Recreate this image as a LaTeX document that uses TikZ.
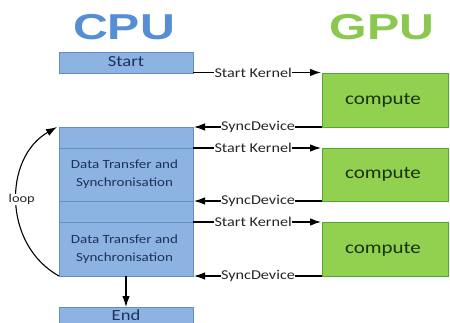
\documentclass[tikz,border=0pt]{standalone}
\usepackage{fontspec}
\setmainfont{Carlito}[FakeStretch=1.2]
\newfontfamily\titlefont{Liberation Sans}[FakeStretch=1.34]
\usetikzlibrary{arrows.meta}
\definecolor{cpublue}{RGB}{85,142,213}
\definecolor{gpugreen}{RGB}{140,200,80}
\definecolor{boxblue}{RGB}{141,179,226}
\definecolor{boxblueline}{RGB}{100,140,200}
\definecolor{boxgreen}{RGB}{146,208,80}
\definecolor{boxgreenline}{RGB}{80,170,50}
\definecolor{bluetext}{RGB}{30,50,90}
\definecolor{greentext}{RGB}{25,50,15}
\begin{document}
\begin{tikzpicture}[x=1pt,y=-1pt,
  cpubox/.style={draw=boxblueline,fill=boxblue,line width=0.6pt},
  gpubox/.style={draw=boxgreenline,fill=boxgreen,line width=0.6pt},
  conn/.style={line width=1.1pt,-{Latex[length=11pt,width=7.5pt]}},
  lbl/.style={fill=white,inner sep=0.5pt,font=\fontsize{13.5}{15}\selectfont,text=black!85}
]
\useasboundingbox (0,0) rectangle (450,323);
% titles
\node[text=cpublue,font=\titlefont\bfseries\fontsize{36}{38}\selectfont] (cpu) at (124,27) {CPU};
\node[text=gpugreen,font=\titlefont\bfseries\fontsize{36}{38}\selectfont] (gpu) at (382,27) {GPU};
% CPU boxes
\draw[cpubox] (59,52) rectangle (193,73);
\node[text=bluetext,font=\fontsize{15.5}{17}\selectfont] (start) at (126,62) {Start};
\draw[cpubox] (59,127) rectangle (193,276);
\draw[boxblueline,line width=0.6pt] (59,148) -- (193,148);
\draw[boxblueline,line width=0.6pt] (59,201) -- (193,201);
\draw[boxblueline,line width=0.6pt] (59,222) -- (193,222);
\node[text=bluetext,align=center,font=\fontsize{12.5}{18}\selectfont] (dt1) at (124.5,174.5) {Data Transfer and\\Synchronisation};
\node[text=bluetext,align=center,font=\fontsize{12.5}{18}\selectfont] (dt2) at (124.5,249) {Data Transfer and\\Synchronisation};
\draw[cpubox] (59,307) rectangle (193,330);
\node[text=bluetext,font=\fontsize{15.5}{17}\selectfont,inner sep=1pt] (endn) at (126,315) {End};
% GPU boxes
\draw[gpubox] (322,73) rectangle (448,127);
\node[text=greentext,font=\fontsize{17.5}{19}\selectfont] (c1) at (383,100) {compute};
\draw[gpubox] (322,148) rectangle (448,201);
\node[text=greentext,font=\fontsize{17.5}{19}\selectfont] (c2) at (383,174.5) {compute};
\draw[gpubox] (322,222) rectangle (448,276);
\node[text=greentext,font=\fontsize{17.5}{19}\selectfont] (c3) at (383,249) {compute};
% coordinates
\coordinate (s1a) at (193,72.5); \coordinate (s1b) at (321,72.5);
\coordinate (y1a) at (322,127); \coordinate (y1b) at (194,127);
\coordinate (s2a) at (193,148); \coordinate (s2b) at (321,148);
\coordinate (y2a) at (322,201); \coordinate (y2b) at (194,201);
\coordinate (s3a) at (193,222); \coordinate (s3b) at (321,222);
\coordinate (y3a) at (322,276); \coordinate (y3b) at (194,276);
\coordinate (mb) at (126,276); \coordinate (et) at (126,307);
\coordinate (lb) at (59,276); \coordinate (lt) at (57,127);
% connectors
\draw[conn] (s1a) -- node[lbl,pos=0.47]{Start Kernel} (s1b);
\draw[conn] (y1a) -- node[lbl,pos=0.5]{SyncDevice} (y1b);
\draw[conn] (s2a) -- node[lbl,pos=0.47]{Start Kernel} (s2b);
\draw[conn] (y2a) -- node[lbl,pos=0.5]{SyncDevice} (y2b);
\draw[conn] (s3a) -- node[lbl,pos=0.47]{Start Kernel} (s3b);
\draw[conn] (y3a) -- node[lbl,pos=0.5]{SyncDevice} (y3b);
\draw[conn] (mb) -- (et);
\draw[conn] (lb) .. controls (3,245) and (3,158) .. node[lbl,pos=0.5,xshift=5pt,yshift=2pt,font=\fontsize{12}{14}\selectfont]{loop} (lt);
\end{tikzpicture}
\end{document}
